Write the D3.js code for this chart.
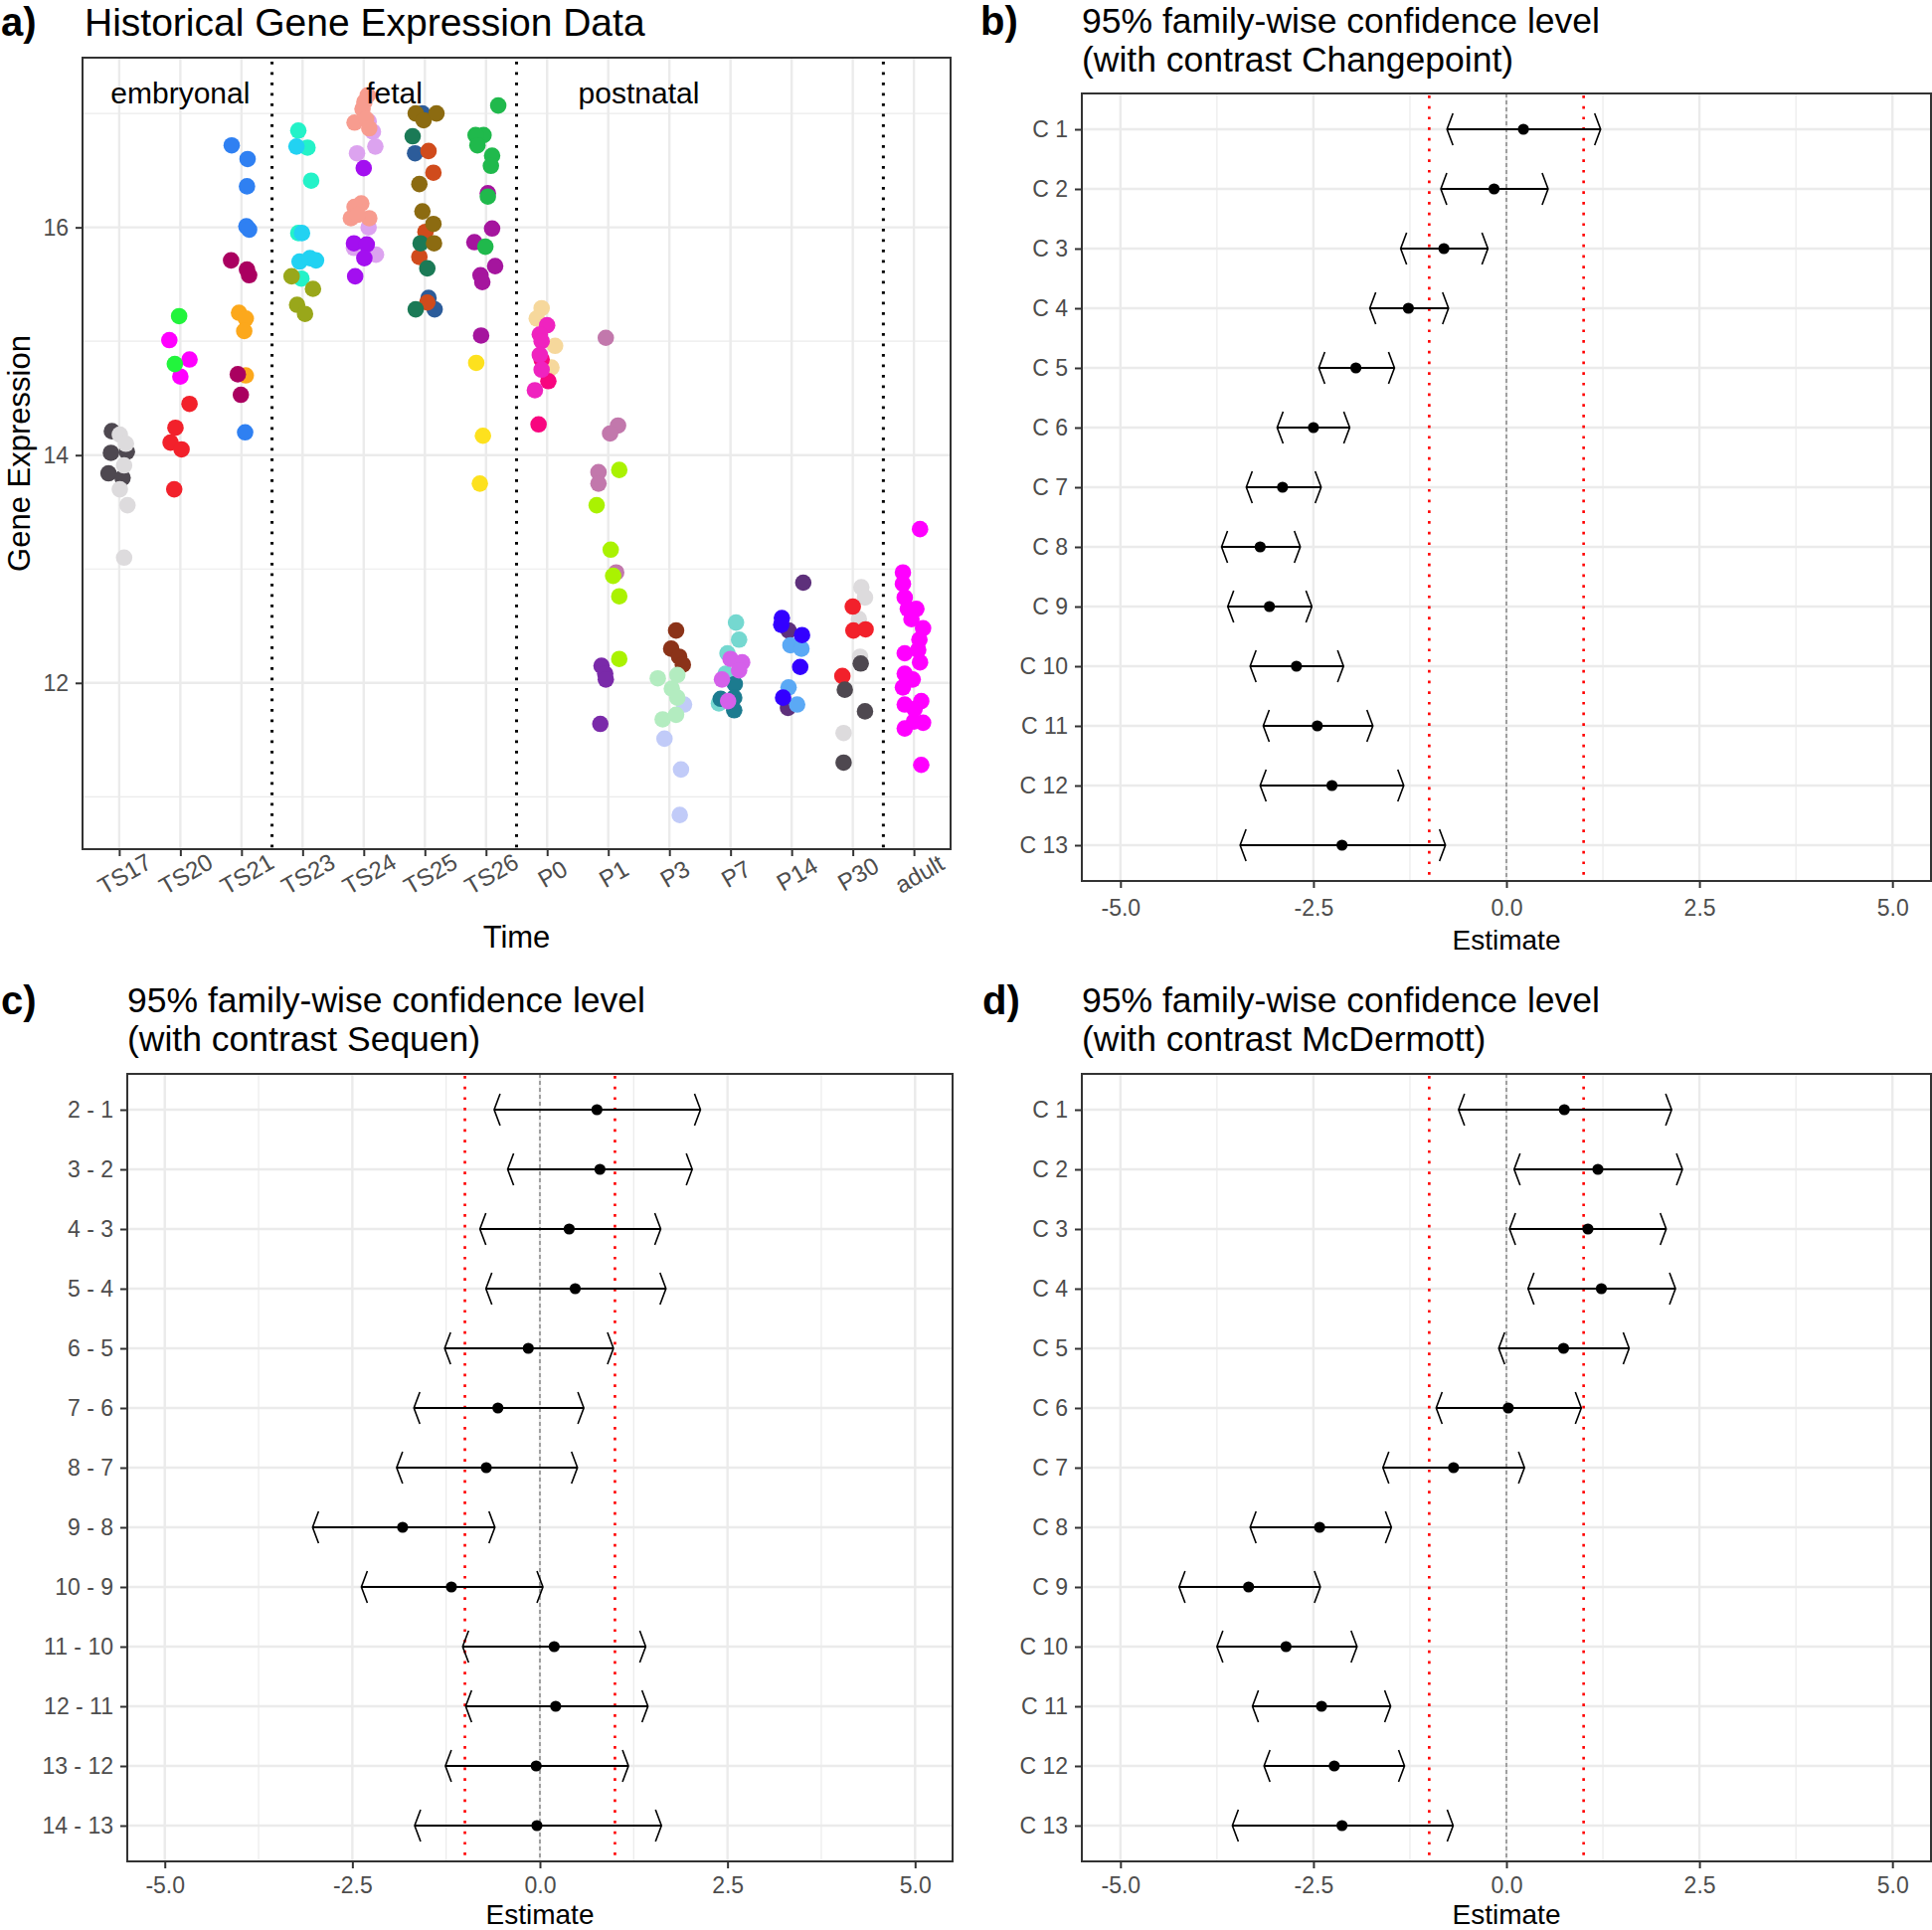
<!DOCTYPE html>
<html><head><meta charset="utf-8">
<script src="https://cdn.jsdelivr.net/npm/d3@7"></script>
<style>
body{margin:0;background:#fff;}
svg{display:block;}
text{font-family:"Liberation Sans",Arial,sans-serif;}
</style>
</head><body>
<svg id="chart" width="1943" height="1941"></svg>
<script>
// ---------------- DATA ----------------
const timeLabels = ["TS17","TS20","TS21","TS23","TS24","TS25","TS26","P0","P1","P3","P7","P14","P30","adult"];
const yTicksA = [12,14,16];
const yMinorA = [11,13,15,17];
const stageLabels = ["embryonal","fetal","postnatal"];
const stagePos = [1, 4.5, 8.5];          // in category index units
const stageY = 17.18;
const stageBreaks = [2.5, 6.5, 12.5];    // in category index units

// [colour group, horizontal jitter (category units), expression value]
const ptsTS17 = [["dkgray",-0.12,14.21],["dkgray",-0.135,14.02],["dkgray",0.125,14.03],["dkgray",-0.175,13.84],["dkgray",0.055,13.80],
 ["ltgray",0.01,14.18],["ltgray",0.11,14.10],["ltgray",0.08,13.91],["ltgray",0.01,13.70],["ltgray",0.135,13.56],["ltgray",0.08,13.10]];
const ptsTS20 = [["red",0.15,14.45],["red",-0.08,14.24],["red",-0.16,14.11],["red",0.02,14.05],["red",-0.10,13.70],
 ["magenta",-0.18,15.01],["magenta",0.15,14.84],["magenta",0.00,14.69],
 ["green",-0.02,15.22],["green",-0.09,14.80]];
const ptsTS21 = [["blue",-0.16,16.72],["blue",0.10,16.60],["blue",0.09,16.36],["blue",0.08,16.01],["blue",0.125,15.98],["blue",0.06,14.20],
 ["orange",-0.04,15.25],["orange",0.07,15.20],["orange",0.045,15.09],["orange",0.07,14.70],
 ["berry",-0.17,15.71],["berry",0.09,15.63],["berry",0.125,15.58],["berry",-0.06,14.71],["berry",-0.01,14.53]];
const ptsTS23 = [["aqua",-0.07,16.85],["aqua",0.08,16.70],["aqua",0.14,16.41],["aqua",-0.07,15.95],["aqua",-0.02,15.55],
 ["cyan",-0.10,16.71],["cyan",-0.01,15.95],["cyan",-0.05,15.70],["cyan",0.12,15.73],["cyan",0.22,15.71],
 ["olive",-0.18,15.57],["olive",0.17,15.46],["olive",-0.09,15.32],["olive",0.04,15.24]];
const ptsTS24 = [["lavender",0.08,16.93],["lavender",0.15,16.84],["lavender",-0.11,16.65],["lavender",0.19,16.71],["lavender",0.08,16.00],["lavender",-0.16,15.82],["lavender",0.20,15.76],
 ["salmon",0.065,17.16],["salmon",0.01,17.10],["salmon",-0.02,17.04],["salmon",-0.15,16.92],["salmon",0.04,16.95],["salmon",0.09,16.87],["salmon",-0.04,16.21],["salmon",-0.15,16.18],["salmon",-0.21,16.08],["salmon",0.09,16.08],["salmon",-0.10,16.11],
 ["violet",0.00,16.52],["violet",-0.16,15.86],["violet",0.05,15.85],["violet",0.01,15.73],["violet",-0.14,15.57]];
const ptsTS25 = [["steel",-0.04,17.00],["steel",-0.16,16.65],["steel",0.06,15.38],["steel",0.16,15.28],
 ["rust",0.06,16.67],["rust",0.14,16.48],["rust",0.01,15.96],["rust",-0.09,15.74],["rust",0.04,15.34],
 ["dkgreen",-0.20,16.80],["dkgreen",-0.07,15.86],["dkgreen",0.04,15.64],["dkgreen",-0.15,15.28],
 ["bronze",-0.15,17.00],["bronze",-0.02,16.94],["bronze",0.19,17.00],["bronze",-0.09,16.38],["bronze",-0.04,16.14],["bronze",0.14,16.03],["bronze",0.15,15.86]];
const ptsTS26 = [["yellow",-0.16,14.81],["yellow",-0.05,14.17],["yellow",-0.10,13.75],
 ["plum",0.03,16.30],["plum",0.10,15.99],["plum",-0.19,15.87],["plum",0.15,15.66],["plum",-0.09,15.58],["plum",-0.06,15.52],["plum",-0.08,15.05],
 ["green2",0.20,17.07],["green2",-0.04,16.81],["green2",-0.17,16.81],["green2",-0.14,16.72],["green2",0.10,16.63],["green2",0.08,16.54],["green2",0.03,16.27],["green2",-0.01,15.83]];
const ptsP0 = [["tan",-0.09,15.29],["tan",-0.17,15.20],["tan",0.13,14.96],["tan",0.07,14.77],
 ["hotpink",-0.09,14.84],["hotpink",0.02,14.65],["hotpink",-0.14,14.27],
 ["pink",0.00,15.14],["pink",-0.12,15.06],["pink",-0.09,15.00],["pink",-0.12,14.88],["pink",-0.09,14.75],["pink",-0.20,14.57]];
const ptsP1 = [["mauve",-0.04,15.03],["mauve",0.16,14.26],["mauve",0.03,14.19],["mauve",-0.16,13.85],["mauve",-0.16,13.75],["mauve",0.13,12.97],
 ["lime",0.18,13.87],["lime",-0.19,13.56],["lime",0.04,13.17],["lime",0.08,12.94],["lime",0.18,12.76],["lime",0.18,12.21],
 ["purple",-0.11,12.15],["purple",-0.05,12.08],["purple",-0.04,12.03],["purple",-0.13,11.64]];
const ptsP3 = [["periwinkle",0.24,11.81],["periwinkle",-0.08,11.51],["periwinkle",0.19,11.24],["periwinkle",0.17,10.84],
 ["brown",0.11,12.46],["brown",0.03,12.30],["brown",0.16,12.23],["brown",0.22,12.16],
 ["mint",-0.19,12.04],["mint",0.13,12.07],["mint",0.04,11.95],["mint",0.13,11.87],["mint",-0.11,11.68],["mint",0.11,11.72]];
const ptsP7 = [["ltteal",0.09,12.53],["ltteal",0.14,12.38],["ltteal",-0.05,12.26],["ltteal",-0.08,12.08],["ltteal",-0.19,11.82],
 ["teal",0.07,11.99],["teal",-0.16,11.86],["teal",0.06,11.87],["teal",0.06,11.76],
 ["orchid",0.00,12.21],["orchid",0.19,12.18],["orchid",0.14,12.11],["orchid",-0.14,12.03],["orchid",-0.04,11.84]];
const ptsP14 = [["dkpurple",0.19,12.88],["dkpurple",-0.05,12.46],["dkpurple",-0.06,11.78],
 ["skyblue",-0.02,12.33],["skyblue",0.16,12.30],["skyblue",-0.05,11.96],["skyblue",0.09,11.81],
 ["blue2",-0.16,12.57],["blue2",-0.17,12.51],["blue2",0.17,12.42],["blue2",0.14,12.14],["blue2",-0.14,11.87]];
const ptsP30 = [["ltgray",0.14,12.84],["ltgray",0.20,12.75],["ltgray",0.10,12.56],["ltgray",0.12,12.23],["ltgray",-0.15,11.56],
 ["red",0.00,12.67],["red",0.01,12.46],["red",0.21,12.47],["red",-0.17,12.06],
 ["dkgray",0.13,12.17],["dkgray",-0.13,11.94],["dkgray",0.20,11.75],["dkgray",-0.15,11.30]];
const ptsAdult = [["magenta",0.10,13.35],["magenta",-0.18,12.97],["magenta",-0.18,12.87],["magenta",-0.15,12.75],["magenta",-0.10,12.65],["magenta",0.04,12.65],
 ["magenta",-0.04,12.56],["magenta",0.15,12.48],["magenta",0.09,12.38],["magenta",0.07,12.29],["magenta",-0.15,12.26],["magenta",0.10,12.18],
 ["magenta",-0.15,12.08],["magenta",-0.02,12.03],["magenta",-0.18,11.96],["magenta",0.12,11.84],["magenta",-0.15,11.81],["magenta",0.01,11.77],
 ["magenta",0.15,11.65],["magenta",0.00,11.66],["magenta",-0.15,11.60],["magenta",0.12,11.28]];
const pointsByTime = [ptsTS17,ptsTS20,ptsTS21,ptsTS23,ptsTS24,ptsTS25,ptsTS26,ptsP0,ptsP1,ptsP3,ptsP7,ptsP14,ptsP30,ptsAdult];

// Panel b: Changepoint contrasts
const cpLabels = ["C 1","C 2","C 3","C 4","C 5","C 6","C 7","C 8","C 9","C 10","C 11","C 12","C 13"];
const cpEst = [0.22,-0.16,-0.81,-1.27,-1.95,-2.50,-2.90,-3.19,-3.07,-2.72,-2.45,-2.26,-2.13];
const cpLwr = [-0.77,-0.85,-1.37,-1.77,-2.43,-2.97,-3.37,-3.69,-3.61,-3.32,-3.15,-3.19,-3.45];
const cpUpr = [1.22,0.54,-0.24,-0.75,-1.45,-2.03,-2.40,-2.67,-2.52,-2.11,-1.73,-1.33,-0.79];
// Panel c: Sequen contrasts
const seqLabels = ["2 - 1","3 - 2","4 - 3","5 - 4","6 - 5","7 - 6","8 - 7","9 - 8","10 - 9","11 - 10","12 - 11","13 - 12","14 - 13"];
const seqEst = [0.76,0.80,0.39,0.47,-0.155,-0.56,-0.715,-1.83,-1.18,0.19,0.21,-0.05,-0.04];
const seqLwr = [-0.61,-0.43,-0.80,-0.72,-1.27,-1.68,-1.91,-3.03,-2.38,-1.03,-0.99,-1.26,-1.67];
const seqUpr = [2.14,2.03,1.61,1.68,0.98,0.585,0.50,-0.60,0.04,1.41,1.44,1.18,1.62];
// Panel d: McDermott contrasts
const mcdLabels = cpLabels;
const mcdEst = [0.75,1.185,1.056,1.23,0.74,0.024,-0.685,-2.42,-3.34,-2.855,-2.395,-2.23,-2.13];
const mcdLwr = [-0.62,0.10,0.04,0.28,-0.10,-0.91,-1.60,-3.32,-4.24,-3.75,-3.29,-3.14,-3.55];
const mcdUpr = [2.14,2.28,2.07,2.19,1.59,0.97,0.234,-1.49,-2.41,-1.935,-1.50,-1.32,-0.69];

const ciTicks = [-5,-2.5,0,2.5,5];
const ciTickLabels = ["-5.0","-2.5","0.0","2.5","5.0"];
const ciMinor = [-3.75,-1.25,1.25,3.75];
const ciRefLines = [-1,1];

// ---------------- STYLE ----------------
const palette = {dkgray:"#4e4850", ltgray:"#dddbdd", red:"#f2212b", magenta:"#ff00ff", green:"#22f43c",
 blue:"#2f80f2", berry:"#aa0060", orange:"#fca81c", aqua:"#24f2c8", cyan:"#22d2f2", olive:"#99a71a",
 salmon:"#f79c8f", lavender:"#dca3ef", violet:"#a30ff0", bronze:"#8c6b11", dkgreen:"#1b7a56", steel:"#2c5c9a",
 rust:"#d04b1c", green2:"#20b94c", plum:"#a5159e", yellow:"#fde11e", tan:"#f6d89c", pink:"#ef23bf",
 hotpink:"#f8057f", mauve:"#c278ac", lime:"#aaf201", purple:"#7a2aa9", brown:"#8b3319", mint:"#b3ecc0",
 periwinkle:"#c1cbf8", ltteal:"#75d8d0", orchid:"#d560ea", teal:"#1c7b8f", dkpurple:"#5e307b",
 blue2:"#3300ff", skyblue:"#5ba9f5"};
const GRID = "#ebebeb", BORDER = "#333333", TICKTXT = "#4d4d4d";

const svg = d3.select("#chart");
svg.append("rect").attr("width",1943).attr("height",1941).attr("fill","#fff");

function styleAxis(g){
  g.select(".domain").remove();
  g.selectAll(".tick line").attr("stroke",BORDER).attr("stroke-width",2);
  g.selectAll(".tick text").attr("fill",TICKTXT).attr("font-size",23)
   .attr("font-family",'"Liberation Sans",Arial,sans-serif');
}

// ---------------- PANEL a ----------------
(function(){
  const A = {l:83, r:956, t:58, b:854};
  const x = d3.scalePoint().domain(timeLabels).range([A.l, A.r]).padding(0.6);
  const y = d3.scaleLinear().domain([10.54, 17.49]).range([A.b, A.t]);
  const xIdx = i => x(timeLabels[0]) + i * x.step();
  const g = svg.append("g");

  g.selectAll(".gminor").data(yMinorA).join("line")
    .attr("x1",A.l).attr("x2",A.r).attr("y1",d=>y(d)).attr("y2",d=>y(d))
    .attr("stroke",GRID).attr("stroke-width",1.2);
  g.selectAll(".gmajy").data(yTicksA).join("line")
    .attr("x1",A.l).attr("x2",A.r).attr("y1",d=>y(d)).attr("y2",d=>y(d))
    .attr("stroke",GRID).attr("stroke-width",2.4);
  g.selectAll(".gmajx").data(timeLabels).join("line")
    .attr("x1",d=>x(d)).attr("x2",d=>x(d)).attr("y1",A.t).attr("y2",A.b)
    .attr("stroke",GRID).attr("stroke-width",2.4);

  g.selectAll(".brk").data(stageBreaks).join("line")
    .attr("x1",d=>xIdx(d)).attr("x2",d=>xIdx(d)).attr("y1",A.t+4).attr("y2",A.b)
    .attr("stroke","#000").attr("stroke-width",3).attr("stroke-dasharray","2.8 7.7");

  pointsByTime.forEach((arr, ti) => {
    g.append("g").selectAll("circle").data(arr).join("circle")
      .attr("cx", d => x(timeLabels[ti]) + d[1]*x.step())
      .attr("cy", d => y(d[2]))
      .attr("r", 8.3)
      .attr("fill", d => palette[d[0]]);
  });

  g.selectAll(".stage").data(stageLabels).join("text")
    .attr("x",(d,i)=>xIdx(stagePos[i])).attr("y",y(stageY))
    .attr("text-anchor","middle").attr("dominant-baseline","central")
    .attr("font-size",30).attr("fill","#000").text(d=>d);

  g.append("rect").attr("x",A.l).attr("y",A.t).attr("width",A.r-A.l).attr("height",A.b-A.t)
    .attr("fill","none").attr("stroke",BORDER).attr("stroke-width",2);

  const ya = g.append("g").attr("transform",`translate(${A.l},0)`)
    .call(d3.axisLeft(y).tickValues(yTicksA).tickFormat(d3.format("d")).tickSize(7).tickPadding(7));
  styleAxis(ya);
  const xa = g.append("g").attr("transform",`translate(0,${A.b})`)
    .call(d3.axisBottom(x).tickSize(7));
  styleAxis(xa);
  xa.selectAll(".tick text").attr("y",0).attr("dy","0.35em").attr("text-anchor","middle")
    .attr("font-size",24).attr("transform","translate(5,25) rotate(-30)");

  g.append("text").attr("x",(A.l+A.r)/2).attr("y",953).attr("text-anchor","middle")
    .attr("font-size",31).text("Time");
  g.append("text").attr("transform",`translate(30,${(A.t+A.b)/2}) rotate(-90)`)
    .attr("text-anchor","middle").attr("font-size",31).text("Gene Expression");
  g.append("text").attr("x",85).attr("y",36).attr("font-size",39).text("Historical Gene Expression Data");
  g.append("text").attr("x",1).attr("y",36).attr("font-size",40).attr("font-weight","bold").text("a)");
})();

// ---------------- CI PANELS ----------------
function ciPanel(o){
  const x = d3.scaleLinear().domain([-5.5,5.5]).range([o.l,o.r]);
  const y = d3.scalePoint().domain(o.labels).range([o.t,o.b]).padding(0.6);
  const g = svg.append("g");
  g.selectAll(".mn").data(ciMinor).join("line")
    .attr("x1",d=>x(d)).attr("x2",d=>x(d)).attr("y1",o.t).attr("y2",o.b)
    .attr("stroke",GRID).attr("stroke-width",1.2);
  g.selectAll(".mj").data(ciTicks).join("line")
    .attr("x1",d=>x(d)).attr("x2",d=>x(d)).attr("y1",o.t).attr("y2",o.b)
    .attr("stroke",GRID).attr("stroke-width",2.4);
  g.selectAll(".hr").data(o.labels).join("line")
    .attr("x1",o.l).attr("x2",o.r).attr("y1",d=>y(d)).attr("y2",d=>y(d))
    .attr("stroke",GRID).attr("stroke-width",2.4);
  g.selectAll(".ref").data(ciRefLines).join("line")
    .attr("x1",d=>x(d)).attr("x2",d=>x(d)).attr("y1",o.t+2).attr("y2",o.b)
    .attr("stroke","#ff0000").attr("stroke-width",2.6).attr("stroke-dasharray","2.7 8");
  g.append("line").attr("x1",x(0)).attr("x2",x(0)).attr("y1",o.t).attr("y2",o.b)
    .attr("stroke","#808080").attr("stroke-width",1.4).attr("stroke-dasharray","4 3");

  const rows = o.labels.map((lab,i)=>({lab, est:o.est[i], lwr:o.lwr[i], upr:o.upr[i]}));
  const bars = g.append("g");
  bars.selectAll(".bar").data(rows).join("line")
    .attr("x1",d=>x(d.lwr)).attr("x2",d=>x(d.upr)).attr("y1",d=>y(d.lab)).attr("y2",d=>y(d.lab))
    .attr("stroke","#000").attr("stroke-width",2.2);
  bars.selectAll(".lb").data(rows).join("path")
    .attr("d",d=>{const xx=x(d.lwr), yy=y(d.lab); return `M${xx+6},${yy-16}L${xx},${yy}L${xx+6},${yy+16}`;})
    .attr("fill","none").attr("stroke","#000").attr("stroke-width",1.6);
  bars.selectAll(".rb").data(rows).join("path")
    .attr("d",d=>{const xx=x(d.upr), yy=y(d.lab); return `M${xx-6},${yy-16}L${xx},${yy}L${xx-6},${yy+16}`;})
    .attr("fill","none").attr("stroke","#000").attr("stroke-width",1.6);
  bars.selectAll("circle").data(rows).join("circle")
    .attr("cx",d=>x(d.est)).attr("cy",d=>y(d.lab)).attr("r",5.6).attr("fill","#000");

  g.append("rect").attr("x",o.l).attr("y",o.t).attr("width",o.r-o.l).attr("height",o.b-o.t)
    .attr("fill","none").attr("stroke",BORDER).attr("stroke-width",2);

  const ya = g.append("g").attr("transform",`translate(${o.l},0)`)
    .call(d3.axisLeft(y).tickSize(7).tickPadding(7));
  styleAxis(ya);
  const xa = g.append("g").attr("transform",`translate(0,${o.b})`)
    .call(d3.axisBottom(x).tickValues(ciTicks).tickFormat((d,i)=>ciTickLabels[i]).tickSize(7));
  styleAxis(xa);
  xa.selectAll(".tick text").attr("y",o.tickY).attr("dy",0);

  g.append("text").attr("x",(o.l+o.r)/2).attr("y",o.xTitleY).attr("text-anchor","middle")
    .attr("font-size",28).text("Estimate");
  g.append("text").attr("x",o.l).attr("y",o.titleY).attr("font-size",35.5).text(o.title1);
  g.append("text").attr("x",o.l).attr("y",o.titleY+39).attr("font-size",35.5).text(o.title2);
  g.append("text").attr("x",o.letterX).attr("y",o.titleY+2).attr("font-size",40).attr("font-weight","bold").text(o.letter);
}

ciPanel({l:1088, r:1942, t:94, b:886, labels:cpLabels, est:cpEst, lwr:cpLwr, upr:cpUpr,
  title1:"95% family-wise confidence level", title2:"(with contrast Changepoint)",
  titleY:33, xTitleY:955, tickY:35, letter:"b)", letterX:986});
ciPanel({l:128, r:958, t:1080, b:1872, labels:seqLabels, est:seqEst, lwr:seqLwr, upr:seqUpr,
  title1:"95% family-wise confidence level", title2:"(with contrast Sequen)",
  titleY:1018, xTitleY:1935, tickY:32, letter:"c)", letterX:1});
ciPanel({l:1088, r:1942, t:1080, b:1872, labels:mcdLabels, est:mcdEst, lwr:mcdLwr, upr:mcdUpr,
  title1:"95% family-wise confidence level", title2:"(with contrast McDermott)",
  titleY:1018, xTitleY:1935, tickY:32, letter:"d)", letterX:988});
</script>
</body></html>
